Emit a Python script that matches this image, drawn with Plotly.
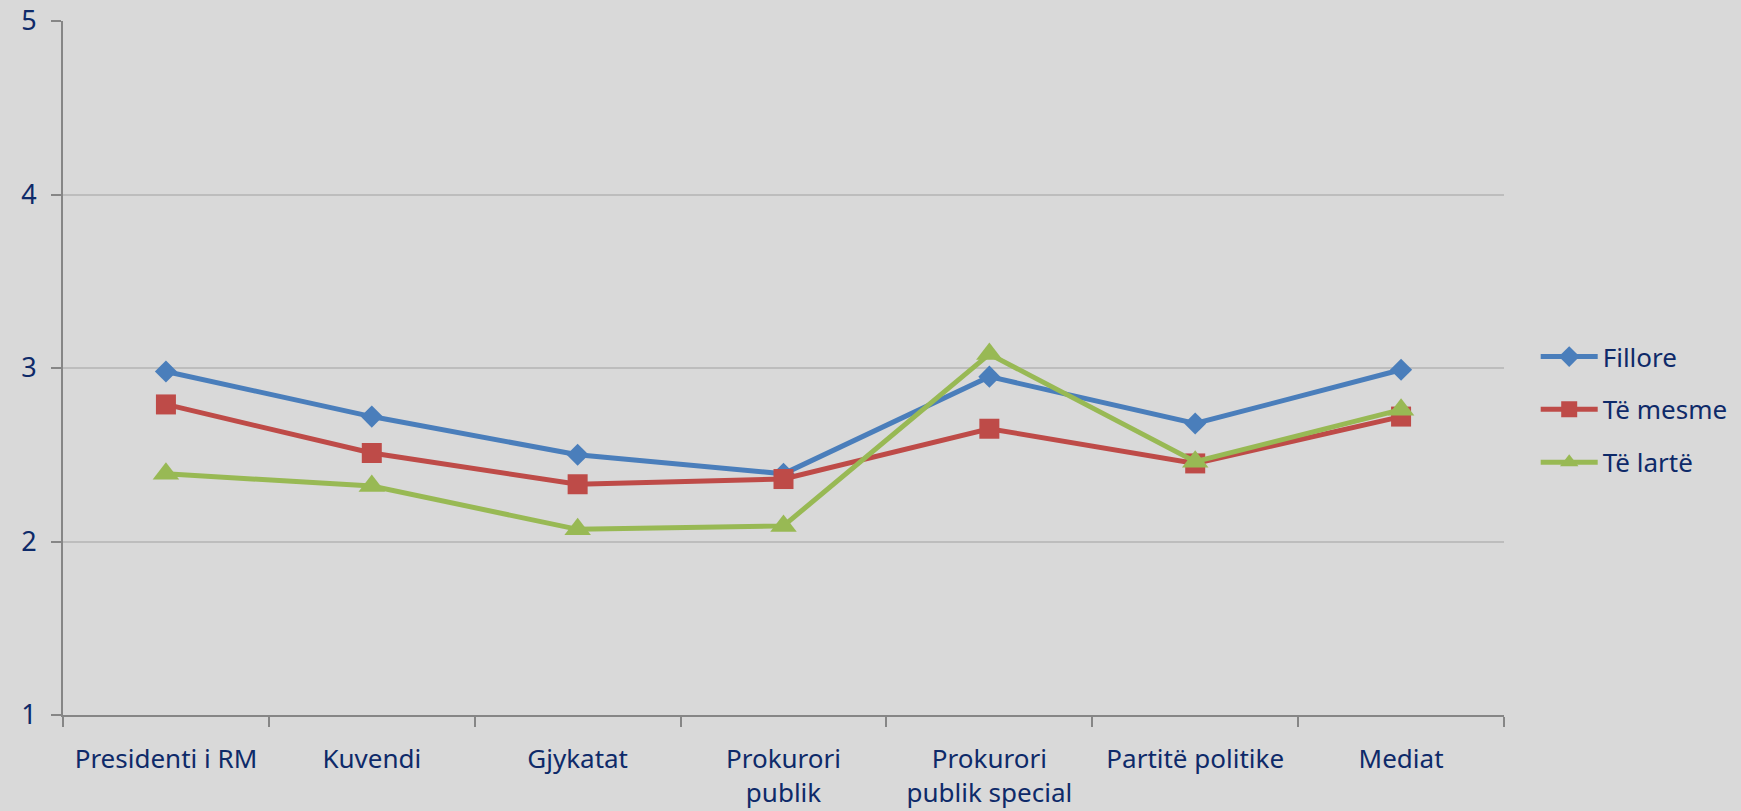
import plotly.graph_objects as go

categories = ["Presidenti i RM", "Kuvendi", "Gjykatat", "Prokurori<br>publik",
              "Prokurori<br>publik special", "Partitë politike", "Mediat"]
fillore = [2.98, 2.72, 2.50, 2.39, 2.95, 2.68, 2.99]
te_mesme = [2.79, 2.51, 2.33, 2.36, 2.65, 2.45, 2.72]
te_larte = [2.39, 2.32, 2.07, 2.09, 3.08, 2.46, 2.76]
series_names = ["Fillore", "Të mesme", "Të lartë"]
y_ticks = [1, 2, 3, 4, 5]

colors = ["#4A7EBB", "#BE4B48", "#98B954"]
symbols = ["diamond", "square", "triangle-up"]
sizes = [17, 20, 23]
text_color = "#0E2A69"
font_family = "Noto Sans, Open Sans, sans-serif"

fig = go.Figure()
for i, (name, vals) in enumerate(zip(series_names, [fillore, te_mesme, te_larte])):
    fig.add_trace(go.Scatter(
        x=categories, y=vals, name=name, mode="lines+markers",
        line=dict(color=colors[i], width=5),
        marker=dict(symbol=symbols[i], size=sizes[i], color=colors[i]),
        legendgroup=name,
    ))

fig.update_layout(
    width=1741, height=811,
    paper_bgcolor="#D9D9D9", plot_bgcolor="#D9D9D9",
    margin=dict(l=63, r=237, t=21, b=96, autoexpand=False),
    font=dict(family=font_family, size=26, color=text_color),
    showlegend=True,
    legend=dict(x=1.022, y=0.44, xanchor="left", yanchor="middle",
                bgcolor="rgba(0,0,0,0)", tracegroupgap=16, itemwidth=57,
                font=dict(size=26, color=text_color)),
    xaxis=dict(
        type="category", range=[-0.5, 6.5], tickson="boundaries",
        showgrid=False, showline=True, linecolor="#868686", linewidth=2,
        ticks="outside", ticklen=10, tickwidth=1.5, tickcolor="#868686",
        ticklabelstandoff=20, tickfont=dict(size=26, color=text_color),
        zeroline=False, automargin=False,
    ),
    yaxis=dict(
        range=[1, 5], tickvals=y_ticks, showgrid=True, gridcolor="#BDBDBD", gridwidth=2,
        showline=True, linecolor="#868686", linewidth=2,
        ticks="outside", ticklen=10, tickwidth=2, tickcolor="#868686",
        ticklabelstandoff=9, tickfont=dict(size=27, color=text_color),
        zeroline=False, automargin=False,
    ),
)

fig.write_html("out.html", config={"displayModeBar": False},
               post_script="document.body.style.margin='0';document.body.style.background='#D9D9D9';")
